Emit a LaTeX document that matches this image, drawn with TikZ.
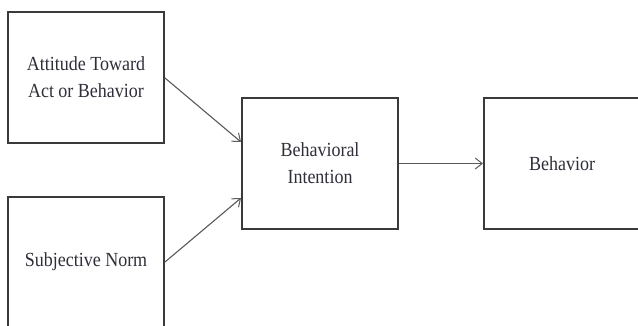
\documentclass[tikz,border=0pt]{standalone}
\usepackage{fontspec}
\setmainfont{Liberation Serif}
\usetikzlibrary{arrows.meta}
\newcommand{\nx}[1]{\scalebox{0.9}[1]{#1}}
\definecolor{boxline}{HTML}{3A3A3A}
\definecolor{arrline}{HTML}{5A5A5A}
\definecolor{txt}{HTML}{2F2F3A}
\tikzset{
  box/.style={draw=boxline, line width=2pt, minimum width=156pt, minimum height=131pt,
    inner sep=0pt, align=center, text=txt, font=\fontsize{20}{27}\selectfont},
  conn/.style={draw=arrline, line width=1.1pt, -{Straight Barb[length=7pt,width=11pt,line width=1pt]}}
}
\begin{document}
\begin{tikzpicture}[x=1pt,y=-1pt]
\path[use as bounding box, clip] (0,0) rectangle (638,325);
\node[box] (att) at (86,77.5) {\nx{Attitude Toward}\\\nx{Act or Behavior}};
\node[box, minimum height=130pt] (sn) at (86,262) {\nx{Subjective Norm}};
\node[box] (bi) at (320,163.5) {\nx{Behavioral}\\\nx{Intention}};
\node[box] (beh) at (562,163.5) {\nx{Behavior}};
\coordinate (bi1) at ([yshift=21.5pt]bi.west);
\coordinate (bi2) at ([yshift=-34.5pt]bi.west);
\draw[conn] ([yshift=-0.5pt]att.east) -- (bi1);
\draw[conn] (sn.east) -- (bi2);
\draw[conn] (bi.east) -- (beh.west);
\end{tikzpicture}
\end{document}
